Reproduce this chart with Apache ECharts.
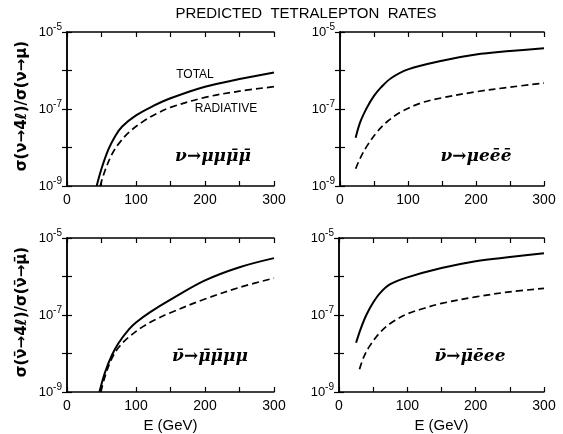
<!DOCTYPE html>
<html>
<head>
<meta charset="utf-8">
<script src="https://cdn.jsdelivr.net/npm/echarts@6/dist/echarts.min.js"></script>
<style>
  html, body { margin: 0; padding: 0; background: #fff; }
  #chart { width: 563px; height: 434px; }
</style>
</head>
<body>
<div id="chart"></div>
<script>
// [E (GeV), ratio]
const tlTotal = [[43, 1e-9], [50, 2.8e-9], [60, 8.9e-9], [70, 2.0e-8], [80, 3.5e-8], [100, 6.8e-8], [125, 1.2e-7], [150, 1.9e-7], [200, 3.8e-7], [250, 6.0e-7], [300, 8.9e-7]]
const tlRad = [[48, 1e-9], [55, 2.5e-9], [65, 6.6e-9], [75, 1.26e-8], [90, 2.5e-8], [110, 4.7e-8], [130, 7.6e-8], [150, 1.1e-7], [200, 2.0e-7], [250, 2.9e-7], [300, 3.8e-7]]
const trTotal = [[23, 1.8e-8], [30, 4.7e-8], [40, 1.12e-7], [50, 2.2e-7], [60, 3.6e-7], [75, 6.3e-7], [100, 1.07e-6], [150, 1.8e-6], [200, 2.6e-6], [250, 3.2e-6], [300, 3.8e-6]]
const trRad = [[23, 2.8e-9], [30, 5.4e-9], [40, 1.12e-8], [55, 2.6e-8], [70, 4.8e-8], [90, 8.5e-8], [120, 1.45e-7], [150, 1.95e-7], [200, 2.8e-7], [250, 3.7e-7], [300, 4.7e-7]]
const blTotal = [[47, 1e-9], [55, 3.2e-9], [65, 9e-9], [75, 1.9e-8], [90, 4.3e-8], [100, 6.4e-8], [120, 1.17e-7], [150, 2.5e-7], [200, 7.9e-7], [250, 1.74e-6], [300, 3.0e-6]]
const blRad = [[49, 1e-9], [55, 2.5e-9], [65, 7.5e-9], [75, 1.45e-8], [90, 2.7e-8], [110, 5.0e-8], [130, 7.9e-8], [150, 1.15e-7], [200, 2.6e-7], [250, 5.2e-7], [300, 9.1e-7]]
const brTotal = [[25, 1.9e-8], [32, 4.5e-8], [40, 1e-7], [50, 2.1e-7], [60, 3.7e-7], [75, 6.3e-7], [100, 9.5e-7], [150, 1.66e-6], [200, 2.5e-6], [250, 3.2e-6], [300, 4.0e-6]]
const brRad = [[30, 3.9e-9], [36, 7.9e-9], [45, 1.58e-8], [60, 3.5e-8], [75, 6.0e-8], [100, 1.07e-7], [125, 1.5e-7], [150, 2.0e-7], [200, 2.95e-7], [250, 4.0e-7], [300, 4.9e-7]]

const xTicks = [0, 100, 200, 300]
const yLabelExps = [-9, -7, -5]

const FONT = 'Liberation Sans'
const grids = [
  { left: 67, top: 32, width: 207, height: 154 },
  { left: 340, top: 32, width: 204, height: 154 },
  { left: 67, top: 238, width: 207, height: 155 },
  { left: 339, top: 238, width: 205, height: 154 },
]
const panels = [
  [tlTotal, tlRad], [trTotal, trRad], [blTotal, blRad], [brTotal, brRad],
]

const tick = { show: true, inside: true, length: 5, lineStyle: { color: '#000', width: 1.2 } }
const line = { show: true, lineStyle: { color: '#000', width: 1.5 } }

const xAxis = []
const yAxis = []
grids.forEach((g, i) => {
  const bottom = i >= 2
  xAxis.push({
    type: 'value', gridIndex: i, min: 0, max: 300, interval: 50,
    axisLine: line, axisTick: tick, splitLine: { show: false },
    axisLabel: {
      color: '#000', fontFamily: FONT, fontSize: 14, margin: 7,
      formatter: v => (xTicks.includes(v) ? String(v) : ''),
    },
    name: bottom ? 'E (GeV)' : '', nameLocation: 'middle', nameGap: 26,
    nameTextStyle: { color: '#000', fontFamily: FONT, fontSize: 15 },
  })
  xAxis.push({
    type: 'value', gridIndex: i, min: 0, max: 300, interval: 50, position: 'top',
    axisLine: line, axisTick: tick, axisLabel: { show: false }, splitLine: { show: false },
  })
  yAxis.push({
    type: 'log', logBase: 10, gridIndex: i, min: 1e-9, max: 1e-5, interval: 1,
    axisLine: line, axisTick: tick, splitLine: { show: false },
    axisLabel: {
      color: '#000', fontFamily: FONT, margin: 5,
      formatter: v => {
        const e = Math.round(Math.log10(v))
        return yLabelExps.includes(e) ? '{b|10}{s|' + e + '}' : ''
      },
      rich: {
        b: { fontSize: 13, fontFamily: FONT, color: '#000' },
        s: { fontSize: 10, fontFamily: FONT, color: '#000', padding: [0, 0, 9, 0] },
      },
    },
  })
  yAxis.push({
    type: 'log', logBase: 10, gridIndex: i, min: 1e-9, max: 1e-5, interval: 1, position: 'right',
    axisLine: line, axisTick: tick, axisLabel: { show: false }, splitLine: { show: false },
  })
})

const series = []
panels.forEach(([total, rad], i) => {
  series.push({
    type: 'line', xAxisIndex: 2 * i, yAxisIndex: 2 * i, data: total,
    smooth: 0.35, showSymbol: false, lineStyle: { color: '#000', width: 2 },
  })
  series.push({
    type: 'line', xAxisIndex: 2 * i, yAxisIndex: 2 * i, data: rad,
    smooth: 0.35, showSymbol: false, lineStyle: { color: '#000', width: 1.7, type: [7, 4] },
  })
})

const txt = (x, y, text, extra) => ({
  type: 'text', x, y,
  style: Object.assign({ text, fill: '#000', font: '14px "' + FONT + '"', textAlign: 'center', textVerticalAlign: 'middle' }, extra || {}),
})
const react = 'bold italic 17px "DejaVu Serif"'
const ylab = 'bold 15px "DejaVu Sans"'

const chart = echarts.init(document.getElementById('chart'))
chart.setOption({
  backgroundColor: '#fff',
  animation: false,
  grid: grids.map(g => Object.assign({ show: false }, g)),
  xAxis, yAxis, series,
  graphic: [
    txt(306, 14, 'PREDICTED  TETRALEPTON  RATES', { font: '15px "' + FONT + '"' }),
    txt(195, 75, 'TOTAL', { font: '12px "' + FONT + '"' }),
    txt(226, 109, 'RADIATIVE', { font: '12px "' + FONT + '"' }),
    txt(213, 157, 'ν→μμμ̄μ̄', { font: react }),
    txt(476, 157, 'ν→μeēē', { font: react }),
    txt(210, 357, 'ν̄→μ̄μ̄μμ', { font: react }),
    txt(470, 357, 'ν̄→μ̄ēee', { font: react }),
    Object.assign(txt(22, 106, 'σ(ν→4ℓ)/σ(ν→μ)', { font: ylab }), { rotation: Math.PI / 2 }),
    Object.assign(txt(22, 312, 'σ(ν̄→4ℓ)/σ(ν̄→μ̄)', { font: ylab }), { rotation: Math.PI / 2 }),
  ],
})
</script>
</body>
</html>
